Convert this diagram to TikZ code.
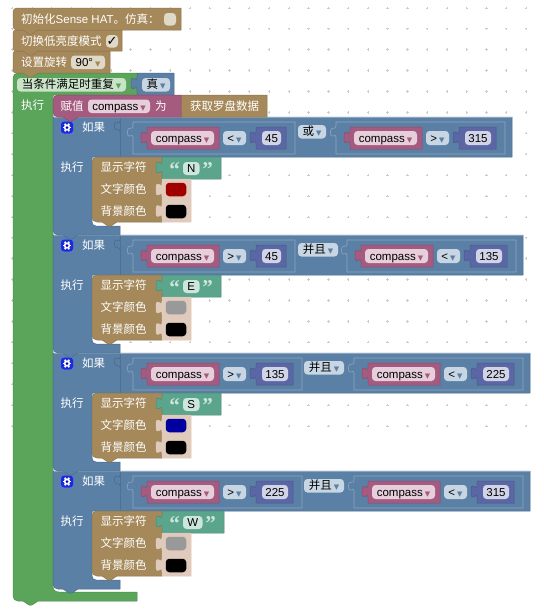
\documentclass[tikz,border=0pt]{standalone}
\usepackage{fontspec}
\setmainfont{Liberation Sans}
\newfontfamily\cjk{Noto Sans CJK SC}
\newfontfamily\djv{DejaVu Sans}
\newfontfamily\quo{Liberation Serif}
\definecolor{sandB}{HTML}{A5895B}\definecolor{sandE}{HTML}{8F7650}\definecolor{sandL}{HTML}{C0AB88}
\definecolor{blueB}{HTML}{5B80A5}\definecolor{blueE}{HTML}{4B6B8C}\definecolor{blueL}{HTML}{8CA6C0}
\definecolor{blueF}{HTML}{C8D6E4}
\definecolor{greenB}{HTML}{5BA55B}\definecolor{greenE}{HTML}{4C8C4C}\definecolor{greenF}{HTML}{C9E3C9}
\definecolor{pinkB}{HTML}{A55B80}\definecolor{pinkE}{HTML}{8C4C6C}\definecolor{pinkF}{HTML}{E6CEDA}
\definecolor{purpB}{HTML}{5B67A5}\definecolor{purpE}{HTML}{4C568C}\definecolor{purpF}{HTML}{D0D4E6}
\definecolor{strB}{HTML}{5BA58C}\definecolor{strE}{HTML}{4C8C76}\definecolor{strF}{HTML}{CEE5DC}
\definecolor{tintB}{HTML}{DFCABC}\definecolor{tintE}{HTML}{CDB6A6}
\definecolor{chkF}{HTML}{E0D8C8}
\newcommand\C[1]{{\cjk #1}}
\newcommand\tri[1]{\hspace{2pt}{\djv\fontsize{7}{7}\selectfont\textcolor{#1}{▼}}}
\tikzset{
  x=1pt,y=-1pt,
  base/.style={font=\fontsize{11.5}{13}\selectfont,inner sep=0pt,text height=9.5pt,text depth=1.5pt},
  lab/.style={base,text=white,anchor=west},
  fieldbox/.style={base,rounded corners=3.5pt,text=black,align=center},
  edge/.style={draw=#1,line width=0.5pt,line join=round},
  socket/.style={draw=blueE,line width=0.6pt},
  outl/.style={draw=blueL,line width=0.6pt,line join=round},
  hl/.style={draw=#1,line width=0.5pt},
  quote/.style={font=\quo\bfseries\fontsize{21}{21}\selectfont,text=#1,inner sep=0pt,anchor=center},
  colorbox/.style={rounded corners=3.5pt,draw=none,inner sep=0pt}
}
% #1 name #2 x1 #3 y1 #4 x2 #5 y2 #6 fill #7 content
\newcommand\fld[7]{\node[fieldbox,fill=#6,minimum width={(#4-(#2))*1pt},minimum height={(#5-(#3))*1pt}] (#1) at ({(#2+#4)/2},{(#3+#5)/2}) {#7};}
\newcommand\lab[4]{\node[lab] (#1) at (#2,#3) {#4};}
% value block with left tab: x1 y1 x2 y2 fill edge
\newcommand\valblk[6]{%
  \draw[edge=#6,fill=#5] (#1,#2) -- (#3,#2) -- (#3,#4) -- (#1,#4) -- (#1,#2+17)
   .. controls +(0,-8) and +(0,13) .. (#1-6,#2+10.5)
   .. controls +(0,-13) and +(0,8) .. (#1,#2+4) -- cycle;}
% statement block: x1 y1 x2 y2 fill edge radius
\newcommand\stmtblk[7]{%
  \draw[edge=#6,fill=#5] (#1,#2+#7) .. controls (#1,#2+0.4*#7) and (#1+0.4*#7,#2) .. (#1+#7,#2) -- (#3,#2) -- (#3,#4)
   -- (#1+25,#4) -- (#1+19,#4+4) -- (#1+16,#4+4) -- (#1+10,#4) -- (#1+#7,#4)
   .. controls (#1+0.4*#7,#4) and (#1,#4-0.4*#7) .. (#1,#4-#7) -- cycle;}
% gear: name x y
\newcommand\gear[3]{%
  \node[draw=blue!55!white,fill={rgb,255:red,26;green,44;blue,214},rounded corners=3pt,minimum width=12.5pt,minimum height=12.5pt,inner sep=0pt,line width=0.4pt] (#1) at (#2,#3) {};
  \foreach \a in {0,60,...,300}{\draw[white,line width=1.6pt] (#1.center) ++(\a:2.5) -- ++(\a:1.9);}
  \fill[white] (#1.center) circle[radius=3.2pt];
  \fill[blue!85!black] (#1.center) circle[radius=1.5pt];}
% if block: prefix T R
\newcommand\ifblk[3]{%
  \draw[edge=blueE,fill=blueB] (53,#2) -- (#3,#2) -- (#3,#2+40) -- (92,#2+40) -- (92,#2+105)
    .. controls (92,#2+107.5) and (94,#2+109) .. (96,#2+109) -- (120,#2+109) -- (120,#2+118)
    -- (78,#2+118) -- (72,#2+122) -- (69,#2+122) -- (63,#2+118) -- (58,#2+118)
    .. controls (55,#2+118) and (53,#2+116) .. (53,#2+113) -- cycle;
  \draw[hl=blueL] (53.5,#2+0.5) -- (#3,#2+0.5);
  \draw[hl=blueE!70!blueB] (120,#2+1) -- (120,#2+40);
  \draw[socket] (120,#2+4) .. controls +(0,6) and +(0,-9) .. (114.5,#2+9)
     .. controls +(0,7) and +(0,-5) .. (120,#2+15);
  \gear{#1g}{67}{#2+10.5}
  \lab{#1if}{82}{#2+10}{\C{如果}}
  \lab{#1do}{60.5}{#2+50}{\C{执行}}
}
% compare: prefix X T op num fw
\newcommand\cmp[6]{%
  \pgfmathsetmacro\cmpE{#2+129+#6}%
  \pgfmathsetmacro\cmpR{\cmpE+14}%
  \draw[outl,fill=blueB] (#2,#3+5) -- (\cmpR,#3+5) -- (\cmpR,#3+37) -- (#2,#3+37) -- (#2,#3+20)
    .. controls +(0,-5) and +(0,9) .. (#2-5.5,#3+15)
    .. controls +(0,-7) and +(0,5) .. (#2,#3+9) -- cycle;
  \valblk{#2+14}{#3+10}{#2+86}{#3+32}{pinkB}{pinkE}
  \fld{#1v}{#2+18}{#3+14}{#2+81}{#3+28}{pinkF}{compass\tri{pinkB}}
  \fld{#1o}{#2+90}{#3+14}{#2+113}{#3+28}{blueF}{#4\tri{blueB}}
  \valblk{#2+123}{#3+10}{\cmpE+5}{#3+32}{purpB}{purpE}
  \fld{#1n}{#2+129}{#3+14}{\cmpE}{#3+28}{purpF}{#5}
}
% display: prefix T char R fieldR closeQ textcolour
\newcommand\disp[7]{%
  \stmtblk{92}{#2+40}{162}{#2+105}{sandB}{sandE}{5}
  \lab{#1a}{100.5}{#2+50.5}{\C{显示字符}}
  \lab{#1b}{100.5}{#2+72}{\C{文字颜色}}
  \lab{#1c}{100.5}{#2+94}{\C{背景颜色}}
  \valblk{162}{#2+40}{#4}{#2+62}{strB}{strE}
  \node[quote=strF] (#1q) at (174.5,#2+53) {“};
  \fld{#1s}{183}{#2+45}{#5}{#2+58}{strF}{#3}
  \node[quote=strF] (#1r) at (#6,#2+53) {”};
  \valblk{162}{#2+62}{191}{#2+83.5}{tintB}{tintB}
  \valblk{162}{#2+83.5}{191}{#2+105}{tintB}{tintB}
  \node[colorbox,fill=#7,minimum width=20.5pt,minimum height=13.5pt] (#1t) at (176,#2+72.5) {};
  \node[colorbox,fill=black,minimum width=20.5pt,minimum height=13.5pt] (#1u) at (176,#2+94.5) {};
}
\begin{document}
\begin{tikzpicture}
\useasboundingbox (0,0) rectangle (544,611);
\fill[white] (0,0) rectangle (544,611);
% workspace grid
\foreach \i in {0,...,26}{\foreach \j in {0,...,20}{
  \pgfmathsetmacro\gx{12+\i*19.77}\pgfmathsetmacro\gy{7.8+\j*20.9}
  \draw[black!20,line width=0.5pt] (\gx-1.2,\gy) -- (\gx+1.2,\gy) (\gx,\gy-1.2) -- (\gx,\gy+1.2);
}}
% loop block
\draw[edge=greenE,fill=greenB] (13,78) .. controls (13,75) and (15,73) .. (18,73) -- (137,73) -- (137,95) -- (53,95) -- (53,586)
  .. controls (53,590) and (55,592) .. (59,592) -- (137,592) -- (137,601) -- (38,601) -- (32,605) -- (29,605) -- (23,601) -- (18,601)
  .. controls (15,601) and (13,599) .. (13,596) -- cycle;
\fld{loopm}{17}{78}{126}{91.5}{greenF}{\C{当条件满足时重复}\tri{greenB}}
\lab{loopd}{21}{105}{\C{执行}}
\valblk{137}{73}{174}{95}{blueB}{blueE}
\fld{truev}{142}{78}{170}{91.5}{blueF}{\C{真}\tri{blueB}}
% if blocks, last first so that each tab lies on the next block
\ifblk{d}{471}{530}
\cmp{da}{133}{471}{>}{225}{26}
\fld{dj}{304}{479}{344}{492.5}{blueF}{\C{并且}\tri{blueB}}
\cmp{db}{354}{471}{<}{315}{26}
\disp{dd}{471}{W}{224}{202.5}{210.5}{black!40}
\ifblk{c}{353}{530}
\cmp{ca}{133}{353}{>}{135}{26}
\fld{cj}{304}{361}{344}{374.5}{blueF}{\C{并且}\tri{blueB}}
\cmp{cb}{354}{353}{<}{225}{26}
\disp{cd}{353}{S}{221}{199.5}{207.5}{{rgb,255:red,0;green,0;blue,160}}
\ifblk{b}{235}{523}
\cmp{ba}{133}{235}{>}{45}{19}
\fld{bj}{298}{243}{338}{256.5}{blueF}{\C{并且}\tri{blueB}}
\cmp{bb}{347}{235}{<}{135}{26}
\disp{bd}{235}{E}{221}{199.5}{207.5}{black!40}
\ifblk{a}{117}{512}
\cmp{aa}{133}{117}{<}{45}{19}
\fld{aj}{298}{125}{326}{138.5}{blueF}{\C{或}\tri{blueB}}
\cmp{ab}{336}{117}{>}{315}{26}
\disp{ad}{117}{N}{221}{199.5}{207.5}{{rgb,255:red,160;green,0;blue,0}}
% assignment
\valblk{181}{95}{267}{117}{sandB}{sandE}
\lab{getc}{190}{106}{\C{获取罗盘数据}}
\stmtblk{53}{95}{181}{117}{pinkB}{pinkE}{5}
\lab{seta}{60.5}{106}{\C{赋值}}
\fld{setv}{88}{99.5}{150}{113}{pinkF}{compass\tri{pinkB}}
\lab{setb}{155}{106}{\C{为}}
% setup stack
\stmtblk{13}{51}{110}{73}{sandB}{sandE}{3}
\lab{rot}{21}{62}{\C{设置旋转}}
\fld{rotv}{71}{55.5}{105}{69}{chkF}{90°\tri{sandB}}
\stmtblk{13}{30}{122}{51}{sandB}{sandE}{3}
\lab{low}{21}{41}{\C{切换低亮度模式}}
\fld{lowc}{106}{35}{118}{47.5}{chkF}{{\djv\fontsize{13}{13}\selectfont ✓}}
\stmtblk{13}{8}{181}{30}{sandB}{sandE}{4}
\lab{init}{21}{19}{\C{初始化}Sense HAT\C{。仿真：}}
\fld{initc}{164}{13}{176}{25.5}{chkF}{}
\end{tikzpicture}
\end{document}
